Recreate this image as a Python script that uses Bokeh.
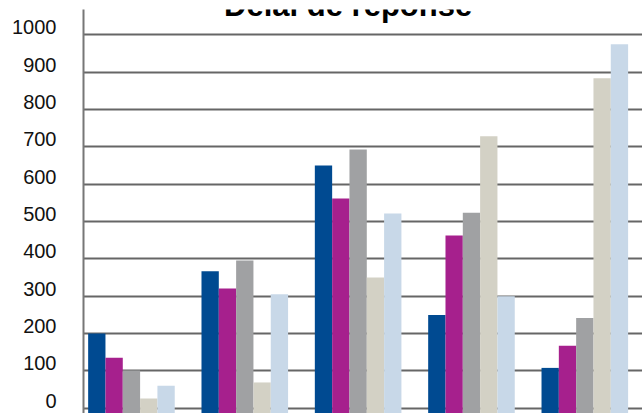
from bokeh.plotting import figure
from bokeh.models import ColumnDataSource, Range1d, LinearAxis, FixedTicker, Label, Grid
from bokeh.transform import dodge
from bokeh.embed import file_html
from bokeh.resources import INLINE

# ---- data ----
title_text = "Délai de réponse"
groups = [0, 1, 2, 3, 4]
series_1 = [200, 367, 650, 250, 108]
series_2 = [135, 321, 562, 463, 167]
series_3 = [101, 396, 693, 524, 242]
series_4 = [26, 69, 350, 729, 884]
series_5 = [60, 305, 522, 300, 975]
y_ticks = [0, 100, 200, 300, 400, 500, 600, 700, 800, 900, 1000]

series = [series_1, series_2, series_3, series_4, series_5]
colors = ["#004A91", "#A6208D", "#A0A1A3", "#D3D1C5", "#C8D8E8"]

y_start, y_end = -14.2, 1068.3
label_shift = -20.6

src = ColumnDataSource(dict(x=groups, s1=series_1, s2=series_2, s3=series_3,
                            s4=series_4, s5=series_5))

p = figure(width=642, height=413, output_backend="svg", toolbar_location=None,
           x_range=Range1d(-0.423, 4.509), y_range=Range1d(y_start, y_end),
           x_axis_location=None, y_axis_location=None,
           min_border_left=83, min_border_right=0, min_border_top=9, min_border_bottom=0)
p.outline_line_color = None
p.background_fill_color = "white"
p.border_fill_color = "white"
p.xgrid.visible = False
p.ygrid.visible = False

grid = Grid(dimension=1, ticker=FixedTicker(ticks=y_ticks),
            grid_line_color="#666666", grid_line_width=2)
p.add_layout(grid)

bw = 0.1528
for j, col in enumerate(["s1", "s2", "s3", "s4", "s5"]):
    p.vbar(x=dodge("x", (j - 2) * bw, range=p.x_range), top=col, bottom=y_start,
           width=bw, source=src, fill_color=colors[j], line_color=None)

p.extra_y_ranges = {"lab": Range1d(y_start + label_shift, y_end + label_shift)}
ax = LinearAxis(y_range_name="lab", ticker=FixedTicker(ticks=y_ticks))
ax.axis_line_color = "#777777"
ax.axis_line_width = 2
ax.major_tick_out = 0
ax.major_tick_in = 0
ax.minor_tick_out = 0
ax.minor_tick_in = 0
ax.major_label_standoff = 27
ax.major_label_text_font = "Liberation Sans"
ax.major_label_text_font_size = "20px"
ax.major_label_text_color = "#111111"
p.add_layout(ax, "left")

title = Label(x=1.912, y=1079.0, text=title_text, text_font="Liberation Sans",
              text_font_size="31px", text_font_style="bold", text_align="center",
              text_baseline="alphabetic", text_color="#000000")
p.add_layout(title)

open("out.html", "w").write(file_html(p, INLINE))
